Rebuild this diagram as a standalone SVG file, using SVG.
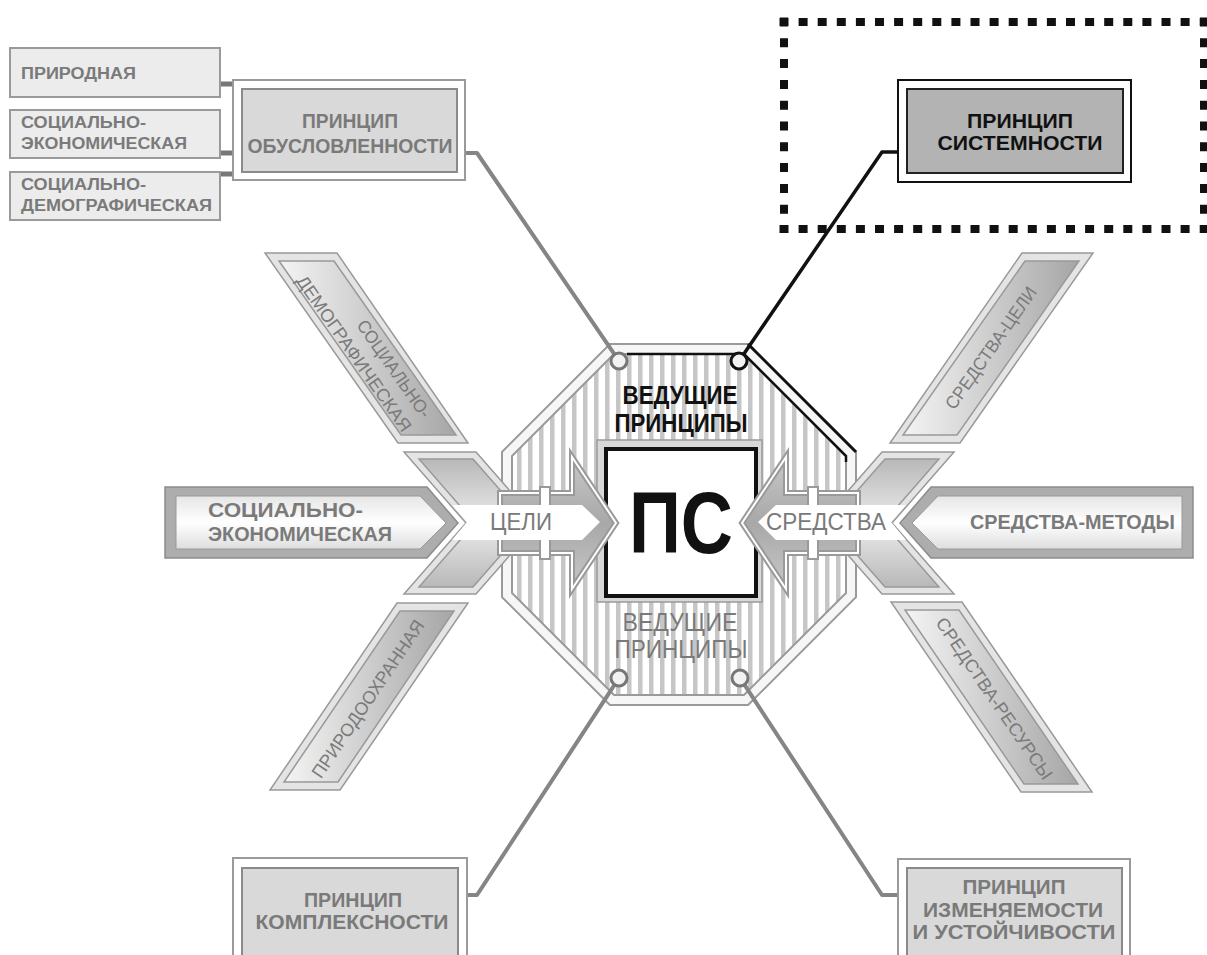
<svg xmlns="http://www.w3.org/2000/svg" width="1207" height="955" viewBox="0 0 1207 955">
<defs>
<style>
text{font-family:"Liberation Sans",Arial,sans-serif}
.tg{fill:#7a7a7a;font-weight:bold}
.tk{fill:#111;font-weight:bold}
.tr{fill:#7a7a7a}
.small{fill:#ececec;stroke:#9a9a9a;stroke-width:2}
.outer{fill:#fff;stroke:#9a9a9a;stroke-width:2}
.inner{fill:#d9d9d9;stroke:#8a8a8a;stroke-width:2}
.conn{fill:none;stroke:#858585;stroke-width:4;stroke-linejoin:round}
.stub{stroke:#777;stroke-width:5}
.bandO{fill:#e4e4e4;stroke:#999;stroke-width:1.5}
.bandI{stroke:#999;stroke-width:1.5}
.dblA{stroke:#9a9a9a;stroke-width:6;stroke-linejoin:miter}
.dblB{fill:none;stroke:#fff;stroke-width:2;stroke-linejoin:miter}
.circ{fill:#f2f2f2;stroke:#777;stroke-width:3}
</style>
<pattern id="stripes" width="11" height="10" patternUnits="userSpaceOnUse">
<rect width="11" height="10" fill="#fff"/>
<rect x="0" width="4.5" height="10" fill="#c6c6c6"/>
</pattern>
<linearGradient id="gDiag" x1="0" y1="0" x2="1" y2="0">
<stop offset="0" stop-color="#f4f4f4"/>
<stop offset="1" stop-color="#a6a6a6"/>
</linearGradient>
<linearGradient id="gChev" x1="0" y1="0" x2="0" y2="1">
<stop offset="0" stop-color="#b8b8b8"/>
<stop offset="0.5" stop-color="#ececec"/>
<stop offset="1" stop-color="#b8b8b8"/>
</linearGradient>
<linearGradient id="gPent" x1="0" y1="0" x2="0" y2="1">
<stop offset="0" stop-color="#e6e6e6"/>
<stop offset="0.5" stop-color="#ffffff"/>
<stop offset="1" stop-color="#dedede"/>
</linearGradient>
<linearGradient id="gArrow" x1="0" y1="0" x2="0" y2="1">
<stop offset="0" stop-color="#c8c8c8"/>
<stop offset="0.5" stop-color="#a8a8a8"/>
<stop offset="1" stop-color="#c8c8c8"/>
</linearGradient>
</defs>
<rect width="1207" height="955" fill="#fff"/>

<!-- dotted frame -->
<g id="frame" stroke="#111" stroke-width="8" fill="none">
<line x1="779.5" y1="22" x2="1207" y2="22" stroke-dasharray="9 10.1"/>
<line x1="779.5" y1="229" x2="1207" y2="229" stroke-dasharray="9 10.1"/>
<line x1="784" y1="17.5" x2="784" y2="233" stroke-dasharray="9 11.8"/>
<line x1="1204" y1="17.5" x2="1204" y2="233" stroke-dasharray="9 11.8"/>
</g>

<!-- octagon -->
<g id="octagon">
<polygon points="612,349 746,349 851,454 851,595 746,700 612,700 507,595 507,454" fill="url(#stripes)"/>
<polygon points="612,349 746,349 851,454 851,595 746,700 612,700 507,595 507,454" fill="none" stroke="#9a9a9a" stroke-width="12"/>
<polygon points="612,349 746,349 851,454 851,595 746,700 612,700 507,595 507,454" fill="none" stroke="#f6f6f6" stroke-width="8"/>
<polyline points="627,354 744,354 846,456 846,462" fill="none" stroke="#111" stroke-width="2.5"/>
<line x1="748" y1="344" x2="856" y2="452" stroke="#111" stroke-width="3"/>
<text class="tk" x="680" y="404" font-size="25" text-anchor="middle" textLength="115" lengthAdjust="spacingAndGlyphs">ВЕДУЩИЕ</text>
<text class="tk" x="681" y="432" font-size="25" text-anchor="middle" textLength="133" lengthAdjust="spacingAndGlyphs">ПРИНЦИПЫ</text>
<text class="tr" x="680" y="631" font-size="25" text-anchor="middle" textLength="115" lengthAdjust="spacingAndGlyphs">ВЕДУЩИЕ</text>
<text class="tr" x="681" y="658" font-size="25" text-anchor="middle" textLength="133" lengthAdjust="spacingAndGlyphs">ПРИНЦИПЫ</text>
</g>

<!-- central box -->
<g id="ps">
<rect x="597" y="440" width="165" height="162" fill="#d8d8d8" stroke="#9a9a9a" stroke-width="1.5"/>
<rect x="606" y="449" width="150" height="147" fill="#fff" stroke="#111" stroke-width="4"/>
<text class="tk" x="681" y="553" font-size="88" text-anchor="middle" textLength="104" lengthAdjust="spacingAndGlyphs">ПС</text>
</g>

<!-- chevrons -->
<g id="chevron-left">
<polygon class="bandO" points="404,452 476,452 538,523 476,594 404,594 466,523"/>
<polygon class="bandI" fill="url(#gChev)" points="419,459 473,459 529,523 473,587 419,587 475,523"/>
</g>
<g id="chevron-right">
<polygon class="bandO" points="954,452 882,452 820,523 882,594 954,594 892,523"/>
<polygon class="bandI" fill="url(#gChev)" points="939,459 885,459 829,523 885,587 939,587 883,523"/>
</g>

<!-- horizontal pentagons -->
<g id="soc-econ">
<polygon points="165,487 427,487 458,523 427,558 165,558" fill="#adadad" stroke="#8c8c8c" stroke-width="1.5"/>
<polygon points="176,496 420,496 446,523 420,549 176,549" fill="url(#gPent)" stroke="#999" stroke-width="1"/>
<text class="tg" x="208" y="517" font-size="20" textLength="155" lengthAdjust="spacingAndGlyphs">СОЦИАЛЬНО-</text>
<text class="tg" x="208" y="541" font-size="20" textLength="184" lengthAdjust="spacingAndGlyphs">ЭКОНОМИЧЕСКАЯ</text>
</g>
<g id="sredstva-metody">
<polygon points="1193,487 931,487 900,523 931,558 1193,558" fill="#adadad" stroke="#8c8c8c" stroke-width="1.5"/>
<polygon points="1182,496 938,496 912,523 938,549 1182,549" fill="url(#gPent)" stroke="#999" stroke-width="1"/>
<text class="tg" x="970" y="529" font-size="20" textLength="205" lengthAdjust="spacingAndGlyphs">СРЕДСТВА-МЕТОДЫ</text>
</g>

<!-- diagonal bands -->
<g id="soc-dem">
<polygon class="bandO" points="265,253 337,253 468,443 398,443"/>
<polygon class="bandI" fill="url(#gDiag)" points="279,261 334,261 456,435 401,435"/>
<text class="tr" font-size="18" transform="translate(367,348) rotate(55)" x="90" y="-4" text-anchor="end" textLength="115" lengthAdjust="spacingAndGlyphs">СОЦИАЛЬНО-</text>
<text class="tr" font-size="18" transform="translate(367,348) rotate(55)" x="90" y="20" text-anchor="end" textLength="186" lengthAdjust="spacingAndGlyphs">ДЕМОГРАФИЧЕСКАЯ</text>
</g>
<g id="prirodoohrannaya">
<polygon class="bandO" points="397,603 468,603 340,790 270,790"/>
<polygon class="bandI" fill="url(#gDiag)" points="400,611 454,611 338,782 284,782"/>
<text class="tr" font-size="18" transform="translate(369,696) rotate(-56)" x="-3" y="7" text-anchor="middle" textLength="186" lengthAdjust="spacingAndGlyphs">ПРИРОДООХРАННАЯ</text>
</g>
<g id="sredstva-celi">
<polygon class="bandO" points="1022,253 1093,253 960,443 890,443"/>
<polygon class="bandI" fill="url(#gDiag)" points="1025,261 1079,261 957,435 903,435"/>
<text class="tr" font-size="18" transform="translate(991,348) rotate(-55)" x="0" y="6" text-anchor="middle" textLength="145" lengthAdjust="spacingAndGlyphs">СРЕДСТВА-ЦЕЛИ</text>
</g>
<g id="sredstva-resursy">
<polygon class="bandO" points="891,602 962,602 1092,792 1021,792"/>
<polygon class="bandI" fill="url(#gDiag)" points="905,610 959,610 1078,784 1024,784"/>
<text class="tr" font-size="18" transform="translate(993,697) rotate(55.6)" x="2" y="6" text-anchor="middle" textLength="192" lengthAdjust="spacingAndGlyphs">СРЕДСТВА-РЕСУРСЫ</text>
</g>

<!-- gray arrows -->
<g id="arrow-celi">
<polygon class="dblA" fill="url(#gArrow)" points="500,493 572,493 572,457 616,523 572,589 572,553 500,553"/>
<polygon class="dblB" points="500,493 572,493 572,457 616,523 572,589 572,553 500,553"/>
<rect x="540" y="487" width="10" height="72" fill="#fff" stroke="#999" stroke-width="2"/>
<polygon points="452,505 582,505 600,522 582,540 452,540 467,522" fill="#fff"/>
<text class="tr" x="521" y="530" font-size="24" text-anchor="middle" textLength="62" lengthAdjust="spacingAndGlyphs">ЦЕЛИ</text>
</g>
<g id="arrow-sredstva">
<polygon class="dblA" fill="url(#gArrow)" points="858,493 786,493 786,457 742,523 786,589 786,553 858,553"/>
<polygon class="dblB" points="858,493 786,493 786,457 742,523 786,589 786,553 858,553"/>
<rect x="808" y="487" width="10" height="72" fill="#fff" stroke="#999" stroke-width="2"/>
<polygon points="906,505 776,505 758,522 776,540 906,540 891,522" fill="#fff"/>
<text class="tr" x="826" y="530" font-size="24" text-anchor="middle" textLength="120" lengthAdjust="spacingAndGlyphs">СРЕДСТВА</text>
</g>

<!-- connectors -->
<g id="connectors">
<line class="stub" x1="207" y1="84" x2="234" y2="84"/>
<line class="stub" x1="207" y1="153" x2="234" y2="153"/>
<line class="stub" x1="207" y1="174" x2="234" y2="174"/>
<path class="conn" d="M465,153 H477 L614.5,354.4"/>
<path d="M898,152 H882 L743.5,354.4" fill="none" stroke="#111" stroke-width="3.5" stroke-linejoin="round"/>
<path class="conn" d="M465,895 H477 L614.6,684.7"/>
<path class="conn" d="M898,895 H882 L744.4,684.7"/>
<circle class="circ" cx="619" cy="361" r="8"/>
<circle cx="739" cy="361" r="8" fill="#f2f2f2" stroke="#111" stroke-width="3"/>
<circle class="circ" cx="619" cy="678" r="8"/>
<circle class="circ" cx="740" cy="678" r="8"/>
</g>

<!-- left small boxes -->
<g id="prirodnaya">
<rect class="small" x="10" y="48" width="210" height="49"/>
<text class="tg" x="21" y="79" font-size="16" textLength="115" lengthAdjust="spacingAndGlyphs">ПРИРОДНАЯ</text>
</g>
<g id="soc-econ-small">
<rect class="small" x="10" y="110" width="210" height="48"/>
<text class="tg" x="21" y="128" font-size="16" textLength="125" lengthAdjust="spacingAndGlyphs">СОЦИАЛЬНО-</text>
<text class="tg" x="21" y="149" font-size="16" textLength="166" lengthAdjust="spacingAndGlyphs">ЭКОНОМИЧЕСКАЯ</text>
</g>
<g id="soc-dem-small">
<rect class="small" x="10" y="172" width="210" height="48"/>
<text class="tg" x="21" y="190" font-size="16" textLength="125" lengthAdjust="spacingAndGlyphs">СОЦИАЛЬНО-</text>
<text class="tg" x="21" y="211" font-size="16" textLength="191" lengthAdjust="spacingAndGlyphs">ДЕМОГРАФИЧЕСКАЯ</text>
</g>

<!-- principle boxes -->
<g id="obuslovlennost">
<rect class="outer" x="233" y="80" width="232" height="100"/>
<rect class="inner" x="242" y="89" width="215" height="83"/>
<text class="tg" x="350" y="128" font-size="20" text-anchor="middle" textLength="96" lengthAdjust="spacingAndGlyphs">ПРИНЦИП</text>
<text class="tg" x="350" y="153" font-size="20" text-anchor="middle" textLength="205" lengthAdjust="spacingAndGlyphs">ОБУСЛОВЛЕННОСТИ</text>
</g>
<g id="sistemnost">
<rect x="898" y="80" width="233" height="102" fill="#fff" stroke="#111" stroke-width="2"/>
<rect x="907" y="89" width="216" height="84" fill="#b3b3b3" stroke="#222" stroke-width="2"/>
<text class="tk" x="1020" y="128" font-size="20" text-anchor="middle" textLength="106" lengthAdjust="spacingAndGlyphs">ПРИНЦИП</text>
<text class="tk" x="1020" y="150" font-size="20" text-anchor="middle" textLength="165" lengthAdjust="spacingAndGlyphs">СИСТЕМНОСТИ</text>
</g>
<g id="kompleksnost">
<rect class="outer" x="233" y="858" width="234" height="110"/>
<rect class="inner" x="242" y="868" width="216" height="100"/>
<text class="tg" x="353" y="907" font-size="20" text-anchor="middle" textLength="98" lengthAdjust="spacingAndGlyphs">ПРИНЦИП</text>
<text class="tg" x="352" y="929" font-size="20" text-anchor="middle" textLength="193" lengthAdjust="spacingAndGlyphs">КОМПЛЕКСНОСТИ</text>
</g>
<g id="izmenyaemost">
<rect class="outer" x="898" y="859" width="232" height="110"/>
<rect class="inner" x="907" y="868" width="215" height="100"/>
<text class="tg" x="1014" y="894" font-size="20" text-anchor="middle" textLength="103" lengthAdjust="spacingAndGlyphs">ПРИНЦИП</text>
<text class="tg" x="1013" y="917" font-size="20" text-anchor="middle" textLength="180" lengthAdjust="spacingAndGlyphs">ИЗМЕНЯЕМОСТИ</text>
<text class="tg" x="1014" y="939" font-size="20" text-anchor="middle" textLength="203" lengthAdjust="spacingAndGlyphs">И  УСТОЙЧИВОСТИ</text>
</g>
</svg>
